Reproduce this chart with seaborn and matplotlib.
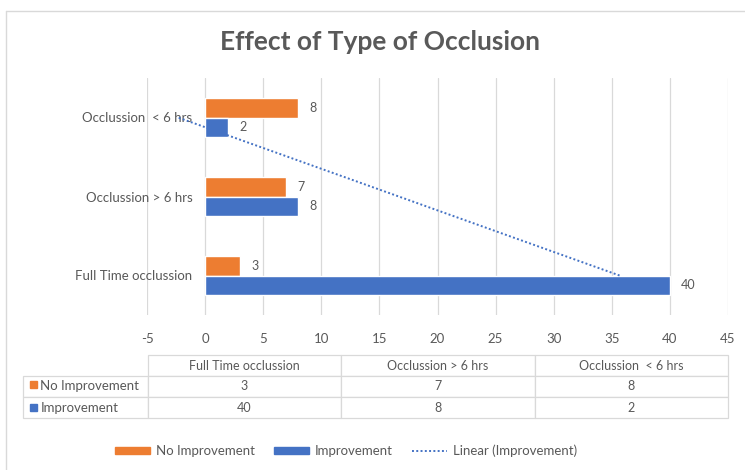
import numpy as np
import pandas as pd
import matplotlib
matplotlib.use("Agg")
import matplotlib.pyplot as plt
from matplotlib.lines import Line2D
from matplotlib.patches import Patch
import seaborn as sns

# data (table order, bottom to top in the chart)
categories = ["Full Time occlussion", "Occlussion > 6 hrs", "Occlussion  < 6 hrs"]
no_improvement = [3, 7, 8]
improvement = [40, 8, 2]
series_names = ["No Improvement", "Improvement"]
x_ticks = list(range(-5, 50, 5))

ORANGE = "#ED7D31"
BLUE = "#4472C4"
GRAY = "#595959"
GRID = "#D9D9D9"

df = pd.DataFrame({
    "category": categories * 2,
    "series": [series_names[0]] * 3 + [series_names[1]] * 3,
    "value": no_improvement + improvement,
})

sns.set_theme(style="white")
plt.rcParams["font.family"] = ["Lato", "DejaVu Sans"]

fig = plt.figure(figsize=(7.45, 4.70), dpi=100)
ax = fig.add_axes([147 / 745, 1 - 315 / 470, 581 / 745, 237 / 470])

order = categories[::-1]
sns.barplot(data=df, y="category", x="value", hue="series", order=order,
            hue_order=series_names, palette=[ORANGE, BLUE], width=0.5,
            orient="h", ax=ax, legend=False, saturation=1)

# data labels
for cont in ax.containers:
    ax.bar_label(cont, padding=8, color=GRAY, fontsize=9)

# linear trendline on Improvement (Excel uses category index 1..n)
idx = np.arange(1, len(categories) + 1)
slope, icpt = np.polyfit(idx, improvement, 1)
trend = slope * idx + icpt
ypos = [order.index(c) for c in categories]
ax.plot(trend, ypos, linestyle=(0, (1, 1.2)), color=BLUE, lw=1.4)

ax.set_xlim(-5, 45)
ax.set_ylim(2.5, -0.5)
ax.set_xticks(x_ticks)
ax.set_xticklabels([str(t) for t in x_ticks])
ax.xaxis.grid(True, color=GRID, lw=0.9)
ax.set_axisbelow(True)
for s in ["top", "right", "bottom"]:
    ax.spines[s].set_visible(False)
ax.spines["left"].set_position(("data", 0))
ax.spines["left"].set_color("none")
ax.tick_params(axis="x", length=0, pad=13, labelsize=9.5, colors=GRAY)
ax.tick_params(axis="y", length=0, pad=9, labelsize=9.5, colors=GRAY)
ax.set_xlabel("")
ax.set_ylabel("")

# data table under the chart
label_w = 125
col_w = 581 / 3
cell_text = [[series_names[0]] + [str(v) for v in no_improvement],
             [series_names[1]] + [str(v) for v in improvement]]
x0 = (23 - 147) / 581
tbl = ax.table(cellText=cell_text, colLabels=[""] + categories,
               colWidths=[label_w, col_w, col_w, col_w], cellLoc="center",
               bbox=[x0, (315 - 418) / 237, 1 - x0, (418 - 355) / 237])
tbl.auto_set_font_size(False)
tbl.set_fontsize(9)
for (r, c), cell in tbl.get_celld().items():
    cell.set_edgecolor(GRID)
    cell.set_linewidth(0.9)
    cell.get_text().set_color(GRAY)
    if r == 0 and c == 0:
        cell.visible_edges = ""
    if c == 0 and r > 0:
        cell.get_text().set_ha("left")
        cell.PAD = 0.14
        cell._loc = "left"
        cell.get_text().set_fontsize(9.5)

# colored keys in table row labels
for yy, col in [(384, ORANGE), (407, BLUE)]:
    fig.patches.append(plt.Rectangle((30 / 745, 1 - (yy + 3.5) / 470), 7 / 745, 7 / 470,
                                     transform=fig.transFigure, color=col))

# legend
handles = [Patch(color=ORANGE), Patch(color=BLUE),
           Line2D([], [], color=BLUE, linestyle=(0, (1, 1.2)), lw=1.4)]
fig.legend(handles, series_names + ["Linear (Improvement)"], ncol=3,
           loc="center", bbox_to_anchor=(346 / 745, 1 - 451 / 470), frameon=False,
           handlelength=2.6, handleheight=0.5, handletextpad=0.45, columnspacing=1.5,
           fontsize=9.5, labelcolor=GRAY)

fig.text(380 / 745, 1 - 42 / 470, "Effect of Type of Occlusion", ha="center", va="center",
         fontsize=19, fontweight="bold", color=GRAY)

# chart border (top and left)
fig.add_artist(Line2D([6 / 745, 1], [1 - 11 / 470] * 2, transform=fig.transFigure, color=GRID, lw=1))
fig.add_artist(Line2D([6 / 745] * 2, [0, 1 - 11 / 470], transform=fig.transFigure, color=GRID, lw=1))

fig.savefig("out.png", dpi=100)
